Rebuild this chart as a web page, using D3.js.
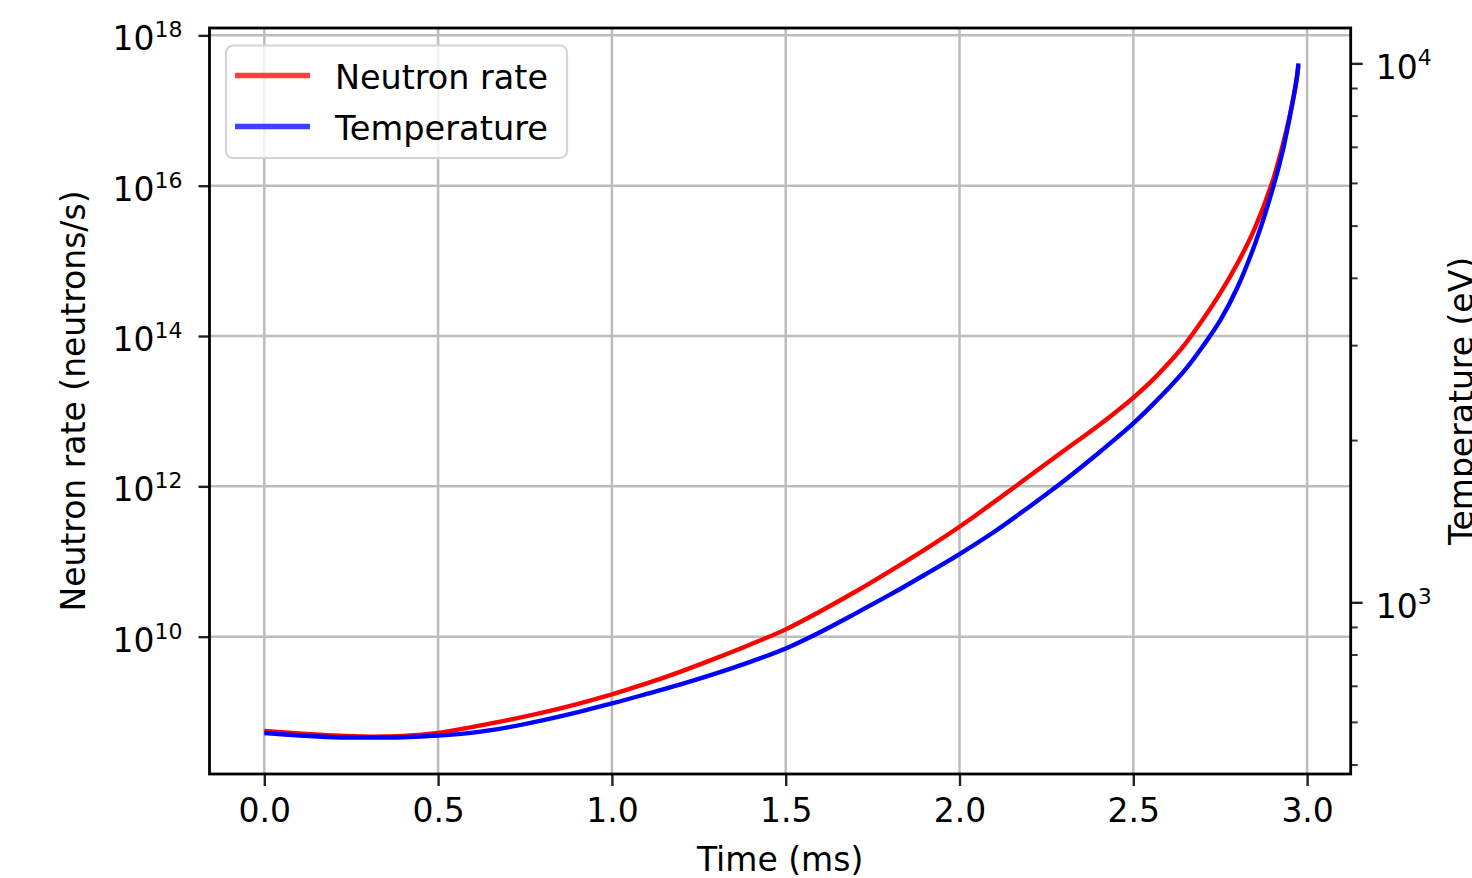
<!DOCTYPE html>
<html><head><meta charset="utf-8">
<script src="https://cdn.jsdelivr.net/npm/d3@7"></script>
<style>
body{margin:0;background:#fff;}
svg{display:block;}
text{font-family:"DejaVu Sans",sans-serif;fill:#000;}
</style>
</head><body>
<svg id="c" width="1472" height="878"></svg>
<script>
// ---- data ----
const timeMs = [0, 0.1, 0.2, 0.3, 0.4, 0.5, 0.6, 0.7, 0.8, 0.9, 1.0, 1.1, 1.2, 1.3, 1.4, 1.5, 1.6, 1.7, 1.8, 1.9, 2.0,
  2.1, 2.2, 2.3, 2.4, 2.45, 2.5, 2.55, 2.6, 2.65, 2.7, 2.75, 2.8, 2.85, 2.9, 2.93, 2.95, 2.97, 2.975];
const neutronRate = [5.56e8, 5.15e8, 4.84e8, 4.68e8, 4.79e8, 5.24e8, 6.30e8, 7.74e8, 9.75e8, 1.27e9, 1.71e9, 2.39e9,
  3.46e9, 5.18e9, 7.93e9, 1.25e10, 2.18e10, 3.96e10, 7.46e10, 1.44e11, 2.90e11, 6.21e11, 1.36e12, 2.97e12, 6.46e12,
  9.77e12, 1.51e13, 2.45e13, 4.27e13, 7.94e13, 1.66e14, 3.72e14, 9.33e14, 2.75e15, 1.12e16, 3.47e16, 8.51e16,
  2.57e17, 3.98e17];
const temperature = [572, 566, 562, 561, 562, 566, 573, 586, 604, 625, 649, 676, 705, 738, 776, 821, 881, 953, 1033,
  1125, 1229, 1352, 1503, 1679, 1892, 2014, 2148, 2307, 2489, 2704, 2985, 3334, 3846, 4624, 5821, 6887, 7943, 9376,
  10000];

const seriesNames = ["Neutron rate", "Temperature"];
const seriesColors = ["#ff0000", "#0000ff"];
const legendColors = ["#ff4040", "#4040ff"];

const xTickValues = [0, 0.5, 1.0, 1.5, 2.0, 2.5, 3.0];
const xTickLabels = ["0.0", "0.5", "1.0", "1.5", "2.0", "2.5", "3.0"];
const leftTickExponents = [10, 12, 14, 16, 18];
const rightTickExponents = [3, 4];
const rightMinorTicks = [500, 600, 700, 800, 900, 2000, 3000, 4000, 5000, 6000, 7000, 8000, 9000];
const xLimits = [-0.1577, 3.1254];
const leftLimits = [1.489e8, 1.253e18];
const rightLimits = [480.2, 11630];
const xLabel = "Time (ms)";
const leftLabel = "Neutron rate (neutrons/s)";
const rightLabel = "Temperature (eV)";

// ---- layout ----
const L = 209.5, R = 1350.7, T = 28, B = 774;
const FS = 33, SUP = 22;
const svg = d3.select("#c");

const x = d3.scaleLinear().domain(xLimits).range([L, R]);
const yL = d3.scaleLog().domain(leftLimits).range([B, T]);
const yR = d3.scaleLog().domain(rightLimits).range([B, T]);

// grid
const grid = svg.append("g");
grid.selectAll(".vg").data(xTickValues).join("line")
  .attr("x1", d => x(d)).attr("x2", d => x(d)).attr("y1", T).attr("y2", B)
  .attr("stroke", "#bdbdbd").attr("stroke-width", 2.5);
grid.selectAll(".hg").data(leftTickExponents).join("line")
  .attr("x1", L).attr("x2", R).attr("y1", d => yL(Math.pow(10, d))).attr("y2", d => yL(Math.pow(10, d)))
  .attr("stroke", "#bdbdbd").attr("stroke-width", 2.5);

// lines
svg.append("clipPath").attr("id", "pc").append("rect")
  .attr("x", L).attr("y", T).attr("width", R - L).attr("height", B - T);
const lineN = d3.line().x((d, i) => x(timeMs[i])).y(d => yL(d)).curve(d3.curveCatmullRom.alpha(0.5));
const lineT = d3.line().x((d, i) => x(timeMs[i])).y(d => yR(d)).curve(d3.curveCatmullRom.alpha(0.5));
const lg = svg.append("g").attr("clip-path", "url(#pc)");
lg.append("path").attr("d", lineN(neutronRate)).attr("fill", "none")
  .attr("stroke", seriesColors[0]).attr("stroke-width", 4.4);
lg.append("path").attr("d", lineT(temperature)).attr("fill", "none")
  .attr("stroke", seriesColors[1]).attr("stroke-width", 4.4);

// axes
const axB = svg.append("g").attr("transform", `translate(0,${B})`)
  .call(d3.axisBottom(x).tickValues(xTickValues).tickSize(12).tickFormat((d, i) => xTickLabels[i]));
axB.select(".domain").remove();
axB.selectAll(".tick line").attr("stroke", "#222").attr("stroke-width", 2.4);
axB.selectAll(".tick text").attr("y", 48).attr("dy", 0).attr("font-size", FS)
  .attr("font-family", "DejaVu Sans").attr("fill", "#000");

const axLft = svg.append("g").attr("transform", `translate(${L},0)`)
  .call(d3.axisLeft(yL).tickValues(leftTickExponents.map(e => Math.pow(10, e))).tickSize(11).tickFormat(""));
axLft.select(".domain").remove();
axLft.selectAll(".tick line").attr("stroke", "#222").attr("stroke-width", 2.4);
axLft.selectAll(".tick text").each(function (d, i) {
  const t = d3.select(this).attr("x", -27).attr("y", 0).attr("dy", 14.5).attr("text-anchor", "end")
    .attr("font-family", "DejaVu Sans").attr("fill", "#000");
  t.text(null);
  t.append("tspan").attr("font-size", FS).text("10");
  t.append("tspan").attr("font-size", SUP).attr("dy", -13).text(String(leftTickExponents[i]));
});

const axRgt = svg.append("g").attr("transform", `translate(${R},0)`)
  .call(d3.axisRight(yR).tickValues(rightTickExponents.map(e => Math.pow(10, e))).tickSize(12).tickFormat(""));
axRgt.select(".domain").remove();
axRgt.selectAll(".tick line").attr("stroke", "#222").attr("stroke-width", 2.4);
axRgt.selectAll(".tick text").each(function (d, i) {
  const t = d3.select(this).attr("x", 25).attr("y", 0).attr("dy", 15).attr("text-anchor", "start")
    .attr("font-family", "DejaVu Sans").attr("fill", "#000");
  t.text(null);
  t.append("tspan").attr("font-size", FS).text("10");
  t.append("tspan").attr("font-size", SUP).attr("dy", -14).text(String(rightTickExponents[i]));
});
const axRm = svg.append("g").attr("transform", `translate(${R},0)`)
  .call(d3.axisRight(yR).tickValues(rightMinorTicks).tickSize(7).tickFormat(""));
axRm.select(".domain").remove();
axRm.selectAll(".tick line").attr("stroke", "#333").attr("stroke-width", 2);

// spines
svg.append("rect").attr("x", L).attr("y", T).attr("width", R - L).attr("height", B - T)
  .attr("fill", "none").attr("stroke", "#000").attr("stroke-width", 2.8);

// labels
svg.append("text").attr("x", (L + R) / 2).attr("y", 871).attr("text-anchor", "middle")
  .attr("font-size", FS).text(xLabel);
svg.append("text").attr("transform", `translate(84.5,${(T + B) / 2}) rotate(-90)`).attr("text-anchor", "middle")
  .attr("font-size", FS).text(leftLabel);
svg.append("text").attr("transform", `translate(1473,${(T + B) / 2}) rotate(-90)`).attr("text-anchor", "middle")
  .attr("font-size", FS).text(rightLabel);

// legend
const leg = svg.append("g");
leg.append("rect").attr("x", 226).attr("y", 45.5).attr("width", 341).attr("height", 112.5).attr("rx", 7)
  .attr("fill", "#fff").attr("fill-opacity", 0.8).attr("stroke", "#d4d4d4").attr("stroke-width", 2.2);
seriesNames.forEach((n, i) => {
  const cy = 75.5 + i * 51;
  leg.append("line").attr("x1", 235).attr("x2", 310).attr("y1", cy).attr("y2", cy)
    .attr("stroke", legendColors[i]).attr("stroke-width", 5.5);
  leg.append("text").attr("x", 335).attr("y", cy + 13).attr("font-size", FS).attr("textLength", 213)
    .attr("lengthAdjust", "spacingAndGlyphs").text(n);
});
</script>
</body></html>
